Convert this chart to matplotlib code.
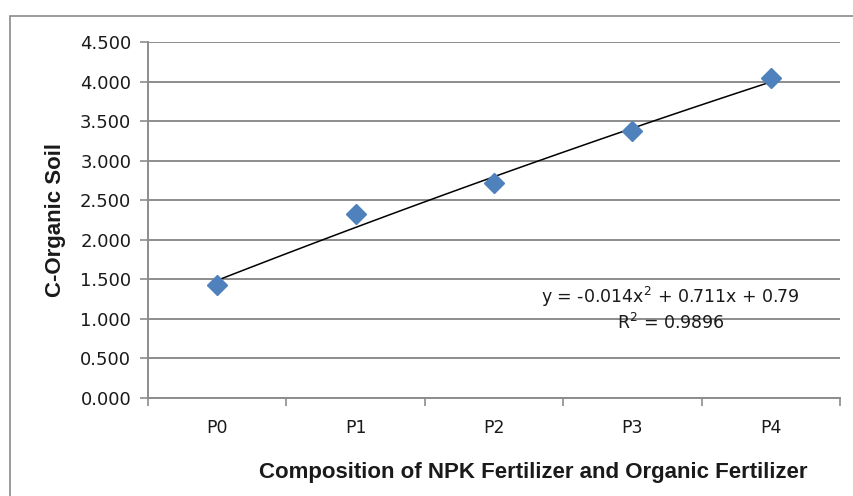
import matplotlib.pyplot as plt
import numpy as np
from matplotlib.patches import Rectangle

# Data
categories = ['P0', 'P1', 'P2', 'P3', 'P4']
c_organic = [1.43, 2.33, 2.72, 3.38, 4.05]
# polynomial trendline shown on the chart (Excel: y = a x^2 + b x + c)
trend_coef = [-0.014, 0.711, 0.79]
yticks = [0, 0.5, 1.0, 1.5, 2.0, 2.5, 3.0, 3.5, 4.0, 4.5]

grid_col = '#8c8c8c'
text_col = '#1a1a1a'

fig = plt.figure(figsize=(8.54, 4.96), dpi=100)
ax = fig.add_axes([148 / 854, 1 - 398 / 496, 692 / 854, 356 / 496])

# outer chart frame (runs off right/bottom like the screenshot)
fig.patches.append(Rectangle((10 / 854, -0.05), 1.0, 1 - 16 / 496 + 0.05,
                             transform=fig.transFigure, fill=False,
                             edgecolor='#8a8a8a', lw=1.2))

x = np.arange(1, len(categories) + 1)
xs = np.linspace(1, len(categories), 100)
ax.plot(xs, np.polyval(trend_coef, xs), color='black', lw=1.1, zorder=3)
ax.plot(x, c_organic, linestyle='none', marker='D', markersize=10,
        color='#4f81bd', zorder=4)

ax.set_xlim(0.5, len(categories) + 0.5)
ax.set_ylim(0, 4.5)
ax.set_yticks(yticks)
ax.set_yticklabels(['%.3f' % v for v in yticks], fontsize=13, color=text_col)
ax.yaxis.grid(True, color=grid_col, lw=1.4)
ax.set_axisbelow(True)

# category boundaries get the tick marks, labels sit in the middle
ax.set_xticks(np.arange(0.5, len(categories) + 1, 1))
ax.set_xticklabels([])
ax.set_xticks(x, minor=True)
ax.set_xticklabels(categories, minor=True, fontsize=12.5, color=text_col)
ax.tick_params(axis='x', which='major', length=6, color=grid_col, width=1.2)
ax.tick_params(axis='x', which='minor', length=0, pad=15)
ax.tick_params(axis='y', length=6, color=grid_col, width=1.2, pad=6)

for s in ['top', 'right']:
    ax.spines[s].set_visible(False)
for s in ['left', 'bottom']:
    ax.spines[s].set_color(grid_col)
    ax.spines[s].set_linewidth(1.4)

ax.set_ylabel('C-Organic Soil', fontsize=16, fontweight='bold',
              family='Liberation Sans', color=text_col)
ax.yaxis.set_label_coords(-0.119, 0.5)
ax.set_xlabel('Composition of NPK Fertilizer and Organic Fertilizer',
              fontsize=16, fontweight='bold', family='Liberation Sans',
              color=text_col)
ax.xaxis.set_label_coords(0.556, -0.18)

ax.text(0.755, 0.285, 'y = -0.014x$^2$ + 0.711x + 0.79', transform=ax.transAxes,
        ha='center', va='center', fontsize=12.5, color=text_col)
ax.text(0.755, 0.21, 'R$^2$ = 0.9896', transform=ax.transAxes,
        ha='center', va='center', fontsize=12.5, color=text_col)

fig.savefig('out.png', dpi=100)
